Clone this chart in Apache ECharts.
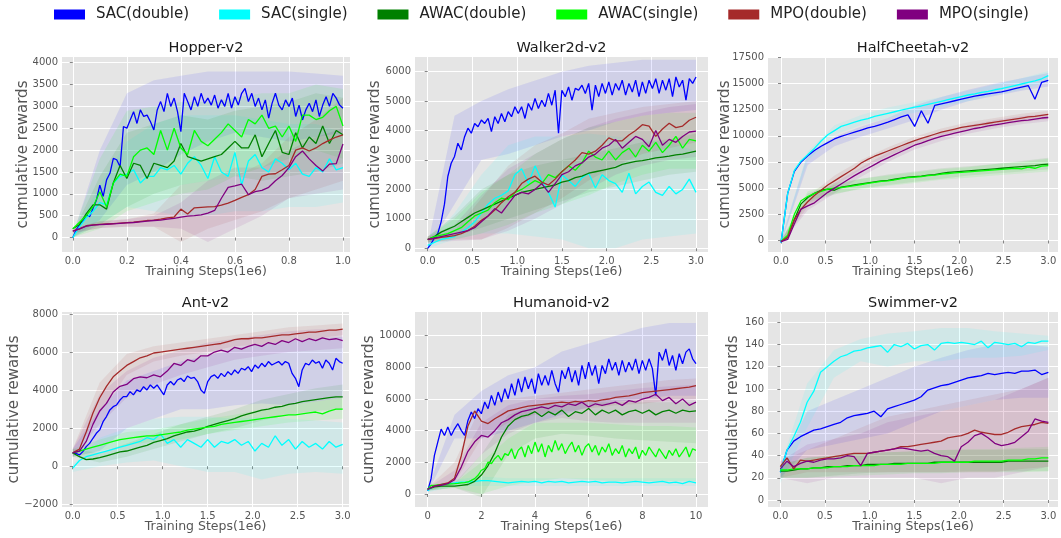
<!DOCTYPE html>
<html><head><meta charset="utf-8">
<script src="https://cdn.jsdelivr.net/npm/echarts@6/dist/echarts.min.js"></script>
<style>html,body{margin:0;padding:0;background:#fff}#c{width:1061px;height:538px}</style>
</head><body><div id="c"></div>
<script>
const methodNames = ['SAC(double)','SAC(single)','AWAC(double)','AWAC(single)','MPO(double)','MPO(single)'];
const methodColors = ['#0000ff','#00ffff','#008000','#00ff00','#a52a2a','#800080'];
const envTitles = ['Hopper-v2','Walker2d-v2','HalfCheetah-v2','Ant-v2','Humanoid-v2','Swimmer-v2'];

// x samples (training steps, 1e6)
const hopperSteps = [0,0.025,0.05,0.075,0.1,0.125,0.15,0.175,0.2,0.225,0.25,0.275,0.3,0.325,0.35,0.375,0.4,0.425,0.45,0.475,0.5,0.525,0.55,0.575,0.6,0.625,0.65,0.675,0.7,0.725,0.75,0.775,0.8,0.825,0.85,0.875,0.9,0.925,0.95,0.975,1.0];
const hopperFineSteps = [0,0.0125,0.025,0.0375,0.05,0.0625,0.075,0.0875,0.1,0.1125,0.125,0.1375,0.15,0.1625,0.175,0.1875,0.2,0.2125,0.225,0.2375,0.25,0.2625,0.275,0.2875,0.3,0.3125,0.325,0.3375,0.35,0.3625,0.375,0.3875,0.4,0.4125,0.425,0.4375,0.45,0.4625,0.475,0.4875,0.5,0.5125,0.525,0.5375,0.55,0.5625,0.575,0.5875,0.6,0.6125,0.625,0.6375,0.65,0.6625,0.675,0.6875,0.7,0.7125,0.725,0.7375,0.75,0.7625,0.775,0.7875,0.8,0.8125,0.825,0.8375,0.85,0.8625,0.875,0.8875,0.9,0.9125,0.925,0.9375,0.95,0.9625,0.975,0.9875,1.0];
const threeMSteps = [0,0.075,0.15,0.225,0.3,0.375,0.45,0.525,0.6,0.675,0.75,0.825,0.9,0.975,1.05,1.125,1.2,1.275,1.35,1.425,1.5,1.575,1.65,1.725,1.8,1.875,1.95,2.025,2.1,2.175,2.25,2.325,2.4,2.475,2.55,2.625,2.7,2.775,2.85,2.925,3.0];
const threeMFineSteps = [0,0.0375,0.075,0.1125,0.15,0.1875,0.225,0.2625,0.3,0.3375,0.375,0.4125,0.45,0.4875,0.525,0.5625,0.6,0.6375,0.675,0.7125,0.75,0.7875,0.825,0.8625,0.9,0.9375,0.975,1.0125,1.05,1.0875,1.125,1.1625,1.2,1.2375,1.275,1.3125,1.35,1.3875,1.425,1.4625,1.5,1.5375,1.575,1.6125,1.65,1.6875,1.725,1.7625,1.8,1.8375,1.875,1.9125,1.95,1.9875,2.025,2.0625,2.1,2.1375,2.175,2.2125,2.25,2.2875,2.325,2.3625,2.4,2.4375,2.475,2.5125,2.55,2.5875,2.625,2.6625,2.7,2.7375,2.775,2.8125,2.85,2.8875,2.925,2.9625,3.0];
const humanoidSteps = [0,0.25,0.5,0.75,1,1.25,1.5,1.75,2,2.25,2.5,2.75,3,3.25,3.5,3.75,4,4.25,4.5,4.75,5,5.25,5.5,5.75,6,6.25,6.5,6.75,7,7.25,7.5,7.75,8,8.25,8.5,8.75,9,9.25,9.5,9.75,10];
const humanoidFineSteps = [0,0.125,0.25,0.375,0.5,0.625,0.75,0.875,1,1.125,1.25,1.375,1.5,1.625,1.75,1.875,2,2.125,2.25,2.375,2.5,2.625,2.75,2.875,3,3.125,3.25,3.375,3.5,3.625,3.75,3.875,4,4.125,4.25,4.375,4.5,4.625,4.75,4.875,5,5.125,5.25,5.375,5.5,5.625,5.75,5.875,6,6.125,6.25,6.375,6.5,6.625,6.75,6.875,7,7.125,7.25,7.375,7.5,7.625,7.75,7.875,8,8.125,8.25,8.375,8.5,8.625,8.75,8.875,9,9.125,9.25,9.375,9.5,9.625,9.75,9.875,10];
const hopperBandSteps = [0,0.1,0.2,0.3,0.4,0.5,0.6,0.7,0.8,0.9,1.0];
const threeMBandSteps = [0,0.3,0.6,0.9,1.2,1.5,1.8,2.1,2.4,2.7,3.0];
const humanoidBandSteps = [0,1,2,3,4,5,6,7,8,9,10];

// tick labels
const hopperXTicks = [0,0.2,0.4,0.6,0.8,1.0];
const threeMXTicks = [0,0.5,1.0,1.5,2.0,2.5,3.0];
const humanoidXTicks = [0,2,4,6,8,10];
const hopperYTicks = [0,500,1000,1500,2000,2500,3000,3500,4000];
const walkerYTicks = [0,1000,2000,3000,4000,5000,6000];
const cheetahYTicks = [0,2500,5000,7500,10000,12500,15000,17500];
const antYTicks = [-2000,0,2000,4000,6000,8000];
const humanoidYTicks = [0,2000,4000,6000,8000,10000];
const swimmerYTicks = [0,20,40,60,80,100,120,140,160];

// ---- Hopper-v2 ----
const hopperSacDouble = [0,175,290,370,520,480,670,860,1200,940,1320,1470,1810,1780,1620,2540,2500,2690,2880,2610,2920,2770,2800,2650,2460,2920,3110,2880,3300,3000,3190,2880,2420,3300,3110,2920,3220,3000,3300,3070,3190,3030,3260,2960,3150,3000,3300,2960,3220,3030,3300,3410,3110,3300,3000,3190,2920,3150,2730,3070,3300,3030,2920,3150,3000,3190,2770,3030,2690,2920,3070,2880,3150,2770,3030,3220,3000,3300,3190,3030,2960];
const hopperSacSingle = [0,250,450,600,800,750,1250,1400,1450,1550,1250,1400,1400,1600,1550,1650,1450,1700,1850,1650,1350,1850,1500,1400,1950,1200,1750,1900,1600,1500,1800,1700,1550,1700,1450,1400,1600,1500,1800,1550,1600];
const hopperAwacDouble = [200,300,550,750,750,650,1250,1650,1350,1700,1650,1350,1700,1650,1600,1750,2150,1850,1800,1750,1800,1850,1900,2050,2200,2050,2050,2350,1850,2150,2450,1950,1900,2400,2050,2300,2150,2550,2150,2450,2350];
const hopperAwacSingle = [200,350,500,700,1050,700,1250,1450,1400,1850,2000,2050,1900,2450,2000,2500,2050,1900,2450,2200,2100,2250,2400,2600,2450,2300,2700,2600,2800,2500,2550,2300,2550,2200,2800,2800,2700,2750,2900,3000,2550];
const hopperMpoDouble = [150,200,270,290,300,310,320,330,340,350,370,390,400,420,450,470,650,540,680,690,700,710,740,790,850,920,980,1100,1400,1450,1460,1550,1650,2000,2050,1980,2050,2150,2230,2300,2350];
const hopperMpoSingle = [150,200,260,285,295,305,315,325,335,345,360,375,390,400,420,440,470,490,500,520,560,620,900,1150,1180,1220,980,1050,1080,1150,1300,1420,1600,1850,1980,1800,1650,1520,1680,1690,2140];
const hopperSacDoubleBand = [[0,50],[400,2000],[1200,3300],[1500,3600],[1900,3700],[2200,3800],[2400,3800],[2300,3800],[2200,3800],[2300,3750],[2400,3700]];
const hopperSacSingleBand = [[0,50],[300,1200],[700,2200],[600,2600],[500,2800],[500,2800],[600,2800],[600,2700],[700,2600],[700,2600],[800,2400]];
const hopperAwacDoubleBand = [[0,100],[300,1400],[700,2400],[1000,2600],[1200,2800],[1300,2700],[1400,2900],[1300,3000],[1400,3100],[1500,3300],[1700,3200]];
const hopperAwacSingleBand = [[0,100],[200,1800],[600,2900],[800,3000],[1000,3100],[1100,3100],[1400,3200],[1600,3300],[1800,3300],[2000,3500],[1800,3400]];
const hopperMpoDoubleBand = [[100,200],[220,380],[250,420],[250,550],[-100,1200],[200,1300],[400,1400],[600,1700],[900,2300],[1100,2700],[1300,3200]];
const hopperMpoSingleBand = [[100,200],[220,370],[250,420],[250,500],[200,800],[-100,1300],[200,1600],[500,1600],[900,2000],[1000,2300],[1100,2500]];

// ---- Walker2d-v2 ----
const walkerSacDouble = [0,150,350,500,900,1500,2440,2890,3120,3570,3340,3790,4080,3910,4240,4130,4360,4240,4410,3960,4470,4240,4580,4300,4640,4470,4810,4580,4810,4410,4920,4690,5090,4750,5030,4810,5260,4860,5370,3910,5370,5150,5480,5030,5430,5370,5540,5260,5600,4690,5540,5150,5600,5260,5650,5200,5600,5370,5710,5200,5600,5310,5710,5150,5650,5260,5710,5430,5760,5260,5710,5370,5760,5150,5820,5480,5710,5030,5760,5600,5820];
const walkerSacSingle = [100,200,300,350,400,550,700,900,1200,1500,1700,1800,1950,2500,2700,2200,2800,2300,1900,1400,2500,2300,2100,2400,2550,2050,2500,2300,2200,1900,2550,1850,2100,2250,1900,1800,2100,1850,2000,2350,1900];
const walkerAwacDouble = [300,400,550,650,750,900,1050,1200,1300,1400,1500,1600,1700,1800,1900,1950,2000,2050,2100,2150,2250,2300,2400,2450,2550,2600,2650,2700,2750,2850,2900,2950,2980,3020,3070,3100,3130,3170,3200,3250,3300];
const walkerAwacSingle = [300,400,450,500,600,700,900,1100,1200,1300,1550,1700,1650,1900,2000,2150,2300,2200,2500,2400,2600,2800,2650,2900,3300,3100,3000,3300,3000,3250,3400,3100,3500,3300,3600,3250,3500,3800,3400,3700,3650];
const walkerMpoDouble = [300,330,370,400,430,500,600,750,950,1100,1300,1550,1750,1900,2200,2350,2450,2250,2150,2350,2600,2800,3000,3250,3200,3300,3500,3750,3650,3650,3850,4000,4200,4150,3800,4050,4250,4100,4150,4350,4450];
const walkerMpoSingle = [300,350,400,450,500,550,600,700,900,1100,1350,1200,1500,1800,1900,1850,2000,2200,1900,2200,2500,2600,2800,2900,3100,3200,3400,3500,3700,3400,3600,3800,3700,3450,4000,3500,3700,3600,3800,3950,3980];
const walkerSacDoubleBand = [[0,100],[1500,4500],[3000,5000],[3200,5400],[3500,5700],[3800,6000],[4000,6200],[4300,6300],[4500,6400],[4600,6400],[4700,6400]];
const walkerSacSingleBand = [[0,200],[300,1200],[500,2500],[500,3500],[400,3800],[300,3800],[0,3900],[0,3800],[300,3700],[400,3600],[500,3300]];
const walkerAwacDoubleBand = [[200,400],[400,1100],[700,2000],[1000,2500],[1300,2800],[1600,3000],[1900,3200],[2100,3400],[2300,3600],[2500,3700],[2600,3900]];
const walkerAwacSingleBand = [[200,400],[300,1000],[500,1900],[800,2500],[1200,3200],[1500,3700],[1800,4100],[2200,4300],[2500,4500],[2700,4600],[2700,4600]];
const walkerMpoDoubleBand = [[200,400],[300,600],[300,1700],[700,2800],[1200,3500],[1700,3900],[2300,4400],[2800,4600],[3200,4800],[3400,4900],[3600,5000]];
const walkerMpoSingleBand = [[200,400],[250,800],[300,1800],[600,2700],[1000,3200],[1500,3700],[2000,4100],[2500,4400],[2800,4600],[3000,4800],[3100,4900]];

// ---- HalfCheetah-v2 ----
const cheetahSacDouble = [-200,4500,6600,7500,8100,8600,9000,9350,9700,9950,10150,10350,10550,10750,10900,11100,11300,11550,11800,12000,10900,12400,11200,12900,13050,13200,13350,13500,13650,13800,13900,14000,14100,14200,14350,14500,14650,14800,13500,15100,15300];
const cheetahSacSingle = [-200,4500,6700,7600,8200,8800,9500,10100,10500,10900,11100,11300,11500,11650,11850,12000,12150,12300,12450,12600,12750,12850,13000,13150,13300,13450,13600,13750,13900,14000,14150,14250,14400,14500,14650,14800,14950,15100,15250,15450,15750];
const cheetahAwacDouble = [-100,300,2000,3500,4100,4500,4800,4900,4800,5100,5200,5300,5400,5500,5600,5700,5750,5850,5950,6050,6100,6150,6250,6300,6400,6500,6550,6600,6650,6700,6750,6800,6850,6900,6950,7000,7050,7100,7150,7250,7300];
const cheetahAwacSingle = [-100,500,2500,3800,4200,4500,4700,4900,5000,5050,5150,5250,5350,5450,5550,5650,5700,5800,5900,6000,6050,6100,6200,6250,6350,6400,6450,6500,6550,6600,6650,6700,6750,6800,6850,6900,6850,7000,6900,7100,7150];
const cheetahMpoDouble = [-100,300,2000,3000,3700,4300,4800,5300,5700,6100,6500,6900,7400,7750,8050,8300,8550,8800,9050,9300,9550,9750,9950,10150,10350,10500,10650,10800,10900,11000,11100,11200,11300,11400,11500,11600,11700,11800,11850,11950,12050];
const cheetahMpoSingle = [-100,100,1600,3000,3300,3600,4100,4600,5000,5400,5800,6200,6550,6900,7250,7600,7900,8200,8500,8800,9100,9300,9550,9750,9950,10100,10250,10400,10550,10700,10800,10950,11050,11150,11250,11350,11450,11500,11600,11700,11750];
const cheetahSacDoubleBand = [[-300,0],[7200,8300],[9000,9900],[9900,10900],[10700,11700],[11500,12900],[12500,13700],[13300,14400],[13800,15000],[14300,15500],[14700,16000]];
const cheetahSacSingleBand = [[-300,0],[7600,8500],[10100,11000],[11000,12000],[11700,12700],[12200,13200],[12800,13700],[13300,14300],[13900,14900],[14400,15500],[15200,16200]];
const cheetahAwacDoubleBand = [[-300,0],[3600,4500],[4400,5300],[5000,5900],[5300,6300],[5600,6600],[5900,6900],[6200,7100],[6400,7300],[6600,7600],[6800,7900]];
const cheetahAwacSingleBand = [[-300,0],[3800,4700],[4500,5500],[4900,5900],[5200,6200],[5500,6500],[5800,6800],[6000,7000],[6200,7300],[6400,7500],[6600,7800]];
const cheetahMpoDoubleBand = [[-300,0],[3200,4200],[5200,6200],[6800,7700],[8100,8900],[9100,9900],[9900,10700],[10500,11300],[10900,11700],[11300,12100],[11600,12400]];
const cheetahMpoSingleBand = [[-300,0],[2900,3800],[4500,5500],[6100,7000],[7500,8400],[8700,9500],[9500,10300],[10200,11000],[10700,11500],[11100,11900],[11400,12100]];

// ---- Ant-v2 ----
const antSacDouble = [680,680,590,770,1030,1200,1470,1730,1910,2340,2610,2960,3130,3220,3480,3660,3660,3920,3750,4010,3920,4180,4010,4270,4100,4270,4010,3750,4270,4450,4270,4530,4620,4450,4740,4620,4670,4450,4010,3830,4450,4710,4800,4620,4880,4710,4970,4800,5060,4880,5150,5060,5230,4970,5320,5150,5410,5230,5500,5320,5410,5500,5320,5500,5410,4880,4620,4180,5060,5410,5320,5580,5410,5500,5150,5580,5410,5060,5670,5500,5410];
const antSacSingle = [-100,300,500,600,700,800,900,1000,1100,1200,1300,1500,1400,1700,1200,1400,1000,1400,1200,1000,1400,1000,1300,1200,1400,1100,1300,800,1200,1000,1600,1100,1400,900,1300,1000,1200,900,1300,1000,1150];
const antAwacDouble = [700,500,350,380,450,550,650,750,800,900,1000,1100,1250,1350,1450,1600,1700,1800,1850,1950,2100,2200,2300,2400,2500,2650,2750,2850,2950,3000,3100,3150,3250,3300,3400,3450,3500,3550,3600,3650,3650];
const antAwacSingle = [700,800,900,1000,1100,1200,1300,1400,1450,1500,1550,1600,1600,1650,1700,1750,1800,1900,1950,2000,2050,2100,2200,2250,2300,2350,2400,2450,2500,2550,2600,2650,2700,2700,2750,2800,2850,2750,2900,3000,3000];
const antMpoDouble = [700,900,1800,2800,3600,4200,4700,5000,5300,5500,5700,5800,5950,6000,6050,6100,6150,6200,6250,6300,6350,6400,6450,6550,6650,6700,6700,6750,6750,6800,6850,6900,6900,6950,7000,7050,7050,7100,7150,7150,7200];
const antMpoSingle = [700,800,1300,2200,2900,3300,3900,4200,4300,4600,4700,4650,4800,4700,5000,5400,5300,5600,5500,5800,5800,6000,6100,6000,6250,6150,6300,6400,6300,6500,6400,6600,6500,6700,6550,6700,6600,6750,6650,6700,6600];
const antSacDoubleBand = [[500,900],[800,3000],[2000,4500],[2500,5000],[3000,5500],[3000,5800],[3200,6200],[3300,6400],[3200,6600],[3400,6700],[3600,6800]];
const antSacSingleBand = [[-300,100],[0,1500],[200,2000],[300,2500],[0,2600],[-300,2600],[-300,2500],[-700,2600],[-400,2500],[-300,2400],[-400,2300]];
const antAwacDoubleBand = [[500,900],[200,700],[500,1200],[900,1700],[1300,2200],[1700,2600],[2000,3000],[2400,3500],[2700,3800],[2900,4100],[3000,4300]];
const antAwacSingleBand = [[500,900],[800,1400],[1100,1800],[1300,1900],[1400,2200],[1700,2500],[1900,2700],[2100,3000],[2300,3200],[2400,3400],[2500,3600]];
const antMpoDoubleBand = [[500,900],[2800,4400],[4800,5900],[5500,6300],[5800,6500],[6000,6700],[6300,6900],[6400,7100],[6600,7300],[6700,7400],[6900,7500]];
const antMpoSingleBand = [[500,900],[2200,3800],[3600,5000],[4300,5700],[4800,6100],[5200,6500],[5600,6700],[5800,6900],[6000,7100],[6100,7200],[6200,7200]];

// ---- Humanoid-v2 ----
const humanoidSacDouble = [200,970,2440,3280,4100,3700,4230,3700,4120,4440,4020,3700,4650,5180,4760,5390,5070,5810,5390,6230,5600,6440,5810,6650,6020,6970,6230,7280,6440,7390,6650,7280,6340,7600,6860,7490,6860,7810,6970,6440,7810,7280,8020,7070,7810,6860,8120,7280,8330,7490,8120,6970,8120,7600,8540,7810,8330,7490,8440,7700,8330,7810,8540,7600,8440,7810,8540,7920,6230,8960,8440,9170,8120,8750,7810,8860,8230,8960,9170,8540,8230];
const humanoidSacSingle = [200,500,600,650,700,750,750,800,850,850,800,750,700,750,800,750,800,700,800,750,800,700,750,800,750,800,700,750,750,700,750,800,750,700,750,800,700,750,650,800,700];
const humanoidAwacDouble = [300,450,500,500,500,550,600,800,1200,1800,2600,3600,4300,4700,4900,5000,5200,4900,5200,5000,5300,4900,5200,5100,5400,5000,5300,5100,5300,5000,5200,5300,5100,5300,5000,5200,5300,5100,5300,5200,5250];
const humanoidAwacSingle = [300,550,550,570,590,610,630,640,650,670,700,720,760,860,970,1180,1500,1600,2020,1920,2230,2440,2130,2550,2440,2860,2230,2760,2970,2340,3070,2550,3280,2650,3180,2340,3070,2650,3390,2760,3180,2550,2970,3280,2650,3070,2440,2970,3180,2650,3070,2440,2970,2650,3180,2440,2860,2550,3070,2340,2860,2550,2970,2230,2760,2440,2970,2650,2340,2860,2550,2230,2760,2440,2860,2340,2650,2970,2340,2860,2760];
const humanoidMpoDouble = [300,500,600,700,1000,2400,4300,5250,4600,4450,4750,5000,5250,5350,5450,5550,5600,5650,5700,5750,5800,5750,5850,5800,5900,5850,5950,6000,6100,6150,6200,6300,6400,6450,6500,6550,6600,6650,6700,6750,6850];
const humanoidMpoSingle = [300,500,550,650,900,1700,2700,3300,3700,3600,4000,4500,4700,5000,5200,5300,5400,5500,5400,5600,5500,5700,5600,5800,5500,5700,5600,5700,5800,5600,5900,5800,6000,6100,6300,5900,6100,5700,6000,5600,5800];
const humanoidSacDoubleBand = [[100,300],[3500,5000],[3500,6500],[4000,7500],[4500,8000],[5000,9000],[5500,9500],[5800,10000],[6000,10500],[6200,10800],[6200,10800]];
const humanoidSacSingleBand = [[100,300],[500,900],[500,1100],[500,1000],[500,1000],[500,1000],[500,1000],[500,1000],[500,1000],[500,1000],[500,1000]];
const humanoidAwacDoubleBand = [[200,400],[400,700],[-200,2500],[2500,5000],[3500,5600],[3800,5700],[3700,5800],[3500,5800],[3400,5800],[3300,5800],[3200,5800]];
const humanoidAwacSingleBand = [[200,400],[400,700],[0,2000],[500,3500],[800,4500],[1000,4500],[900,4500],[800,4400],[800,4300],[800,4300],[800,4200]];
const humanoidMpoDoubleBand = [[200,400],[700,2000],[3500,5600],[4500,6000],[5000,6200],[5200,6400],[5400,6600],[5600,6800],[5700,7000],[5900,7200],[6000,7300]];
const humanoidMpoSingleBand = [[200,400],[600,1500],[2500,4500],[3800,5600],[4500,6000],[4800,6200],[4600,6300],[4500,6500],[4500,6700],[4500,6800],[4500,6900]];

// ---- Swimmer-v2 ----
const swimmerSacDouble = [25,45,53,57,60,63,64,66,68,70,74,76,77,78,80,75,82,84,86,88,90,93,99,101,103,104,106,108,110,111,112,114,113,114,115,114,116,116,117,113,115];
const swimmerSacSingle = [25,45,57,70,88,98,115,120,125,129,131,134,135,137,138,139,133,140,138,141,136,139,140,135,141,142,141,142,141,140,143,137,142,141,140,141,138,142,141,143,143];
const swimmerAwacDouble = [26,26,27,28,28,29,29,30,30,30,31,31,31,32,32,32,32,33,33,33,33,33,33,34,34,34,34,34,34,34,34,34,34,34,35,35,35,35,35,35,35];
const swimmerAwacSingle = [27,27,28,28,28,29,29,29,30,30,30,31,31,31,31,32,32,32,32,33,33,33,33,33,34,34,34,34,34,35,35,35,35,35,36,36,36,37,37,38,38];
const swimmerMpoDouble = [30,38,28,36,35,36,37,38,39,40,41,42,42,42,43,44,45,46,48,48,49,50,51,52,53,56,57,58,60,63,61,60,59,59,61,64,66,67,68,70,69];
const swimmerMpoSingle = [28,35,30,33,35,34,36,37,37,38,40,39,31,42,43,44,45,46,47,46,45,44,45,42,40,39,35,48,52,58,60,56,51,49,50,52,57,62,73,71,70];
const swimmerSacDoubleBand = [[20,30],[45,80],[50,90],[55,100],[60,110],[70,120],[80,128],[85,135],[90,140],[92,140],[92,138]];
const swimmerSacSingleBand = [[15,30],[65,105],[110,135],[125,145],[120,150],[125,152],[125,155],[128,155],[128,152],[130,150],[135,148]];
const swimmerAwacDoubleBand = [[20,32],[20,38],[22,40],[24,42],[25,43],[25,44],[25,45],[26,45],[26,45],[26,46],[26,46]];
const swimmerAwacSingleBand = [[20,32],[20,38],[21,40],[22,42],[23,43],[24,44],[24,45],[25,46],[25,46],[25,47],[26,48]];
const swimmerMpoDoubleBand = [[20,35],[25,45],[25,55],[25,65],[25,75],[25,80],[25,85],[25,90],[25,95],[28,100],[30,110]];
const swimmerMpoSingleBand = [[20,35],[15,50],[20,55],[20,60],[20,70],[20,75],[15,80],[20,85],[20,90],[25,100],[30,110]];

// ---- assemble ----
const H = hopperSteps, T = threeMSteps, U = humanoidSteps;
const envData = [
  {steps: [hopperFineSteps,H,H,H,H,H], bandSteps: hopperBandSteps, xTicks: hopperXTicks, yTicks: hopperYTicks,
   values: [hopperSacDouble,hopperSacSingle,hopperAwacDouble,hopperAwacSingle,hopperMpoDouble,hopperMpoSingle],
   bands: [hopperSacDoubleBand,hopperSacSingleBand,hopperAwacDoubleBand,hopperAwacSingleBand,hopperMpoDoubleBand,hopperMpoSingleBand]},
  {steps: [threeMFineSteps,T,T,T,T,T], bandSteps: threeMBandSteps, xTicks: threeMXTicks, yTicks: walkerYTicks,
   values: [walkerSacDouble,walkerSacSingle,walkerAwacDouble,walkerAwacSingle,walkerMpoDouble,walkerMpoSingle],
   bands: [walkerSacDoubleBand,walkerSacSingleBand,walkerAwacDoubleBand,walkerAwacSingleBand,walkerMpoDoubleBand,walkerMpoSingleBand]},
  {steps: [T,T,T,T,T,T], bandSteps: threeMBandSteps, xTicks: threeMXTicks, yTicks: cheetahYTicks,
   values: [cheetahSacDouble,cheetahSacSingle,cheetahAwacDouble,cheetahAwacSingle,cheetahMpoDouble,cheetahMpoSingle],
   bands: [cheetahSacDoubleBand,cheetahSacSingleBand,cheetahAwacDoubleBand,cheetahAwacSingleBand,cheetahMpoDoubleBand,cheetahMpoSingleBand]},
  {steps: [threeMFineSteps,T,T,T,T,T], bandSteps: threeMBandSteps, xTicks: threeMXTicks, yTicks: antYTicks,
   values: [antSacDouble,antSacSingle,antAwacDouble,antAwacSingle,antMpoDouble,antMpoSingle],
   bands: [antSacDoubleBand,antSacSingleBand,antAwacDoubleBand,antAwacSingleBand,antMpoDoubleBand,antMpoSingleBand]},
  {steps: [humanoidFineSteps,U,U,humanoidFineSteps,U,U], bandSteps: humanoidBandSteps, xTicks: humanoidXTicks, yTicks: humanoidYTicks,
   values: [humanoidSacDouble,humanoidSacSingle,humanoidAwacDouble,humanoidAwacSingle,humanoidMpoDouble,humanoidMpoSingle],
   bands: [humanoidSacDoubleBand,humanoidSacSingleBand,humanoidAwacDoubleBand,humanoidAwacSingleBand,humanoidMpoDoubleBand,humanoidMpoSingleBand]},
  {steps: [T,T,T,T,T,T], bandSteps: threeMBandSteps, xTicks: threeMXTicks, yTicks: swimmerYTicks,
   values: [swimmerSacDouble,swimmerSacSingle,swimmerAwacDouble,swimmerAwacSingle,swimmerMpoDouble,swimmerMpoSingle],
   bands: [swimmerSacDoubleBand,swimmerSacSingleBand,swimmerAwacDoubleBand,swimmerAwacSingleBand,swimmerMpoDoubleBand,swimmerMpoSingleBand]}
];

// layout (pixels / axis extents)
const layout = [
  {grid:{left:62,top:57,width:288,height:195}, x:[-0.04,1.026], y:[-330,4130], yGap:31, xDec:1},
  {grid:{left:415,top:57,width:293,height:195}, x:[-0.142,3.134], y:[-125,6497], yGap:32.5, xDec:1},
  {grid:{left:768,top:57,width:290,height:195}, x:[-0.146,3.109], y:[-1100,17530], yGap:35.5, xDec:1},
  {grid:{left:62,top:312,width:287,height:195}, x:[-0.119,3.07], y:[-2142,8105], yGap:40.5, xDec:1},
  {grid:{left:415,top:312,width:293,height:195}, x:[-0.474,10.448], y:[-821,11497], yGap:38.5, xDec:0},
  {grid:{left:768,top:312,width:290,height:195}, x:[-0.138,3.108], y:[-6.3,169.3], yGap:27.5, xDec:1}
];

const FONT = 'DejaVu Sans';
const fmtNum = v => (v < 0 ? '\u2212' + Math.abs(v) : String(v));

const grids = [], xAxes = [], yAxes = [], series = [], graphics = [];
layout.forEach((L, g) => {
  const env = envData[g];
  grids.push(Object.assign({show:true, backgroundColor:'#e5e5e5', borderWidth:0}, L.grid));
  xAxes.push({type:'value', gridIndex:g, min:L.x[0], max:L.x[1],
    axisLine:{show:false},
    axisTick:{show:true, length:3, customValues: env.xTicks, lineStyle:{color:'#666', width:0.8}},
    axisLabel:{customValues: env.xTicks, color:'#555', fontSize:10, fontFamily:FONT, margin:4,
      formatter: v => v.toFixed(L.xDec)},
    splitLine:{show:true, lineStyle:{color:'#ffffff', width:1}},
    name:'Training Steps(1e6)', nameLocation:'middle', nameGap:13, nameMoveOverlap:false,
    nameTextStyle:{color:'#555', fontSize:12.5, fontFamily:FONT}});
  yAxes.push({type:'value', gridIndex:g, min:L.y[0], max:L.y[1],
    axisLine:{show:false},
    axisTick:{show:true, length:3, customValues: env.yTicks, lineStyle:{color:'#666', width:0.8}},
    axisLabel:{customValues: env.yTicks, color:'#555', fontSize:10, fontFamily:FONT, margin:4,
      formatter: v => fmtNum(v)},
    splitLine:{show:true, lineStyle:{color:'#ffffff', width:1}},
    name:'cumulative rewards', nameLocation:'middle', nameGap:L.yGap, nameRotate:90, nameMoveOverlap:false,
    nameTextStyle:{color:'#555', fontSize:15, fontFamily:FONT}});
  graphics.push({type:'text', x: L.grid.left + L.grid.width/2, y: L.grid.top - 9,
    style:{text: envTitles[g], fill:'#1a1a1a', font:'14.5px "DejaVu Sans"', textAlign:'center', textVerticalAlign:'middle'}});

  env.bands.forEach((band, j) => {
    const pts = env.bandSteps.map((x, k) => [x, band[k][0], band[k][1]]);
    series.push({type:'custom', name:'band-' + g + '-' + j, xAxisIndex:g, yAxisIndex:g, clip:true, silent:true, z:1,
      data: pts, encode:{x:0, y:[1,2]},
      renderItem: (params, api) => {
        if (params.dataIndex !== 0) return null;
        const up = pts.map(p => api.coord([p[0], p[2]]));
        const lo = pts.map(p => api.coord([p[0], p[1]])).reverse();
        return {type:'polygon', shape:{points: up.concat(lo)},
          style:{fill: echarts.color.modifyAlpha(methodColors[j], 0.09)}};
      }});
  });
  env.values.forEach((vals, j) => {
    const xs = env.steps[j];
    series.push({type:'line', name: methodNames[j], xAxisIndex:g, yAxisIndex:g, z:3,
      data: xs.map((x, k) => [x, vals[k]]),
      showSymbol:false, symbol:'none', color: methodColors[j],
      itemStyle:{color: methodColors[j]},
      lineStyle:{width:1.3, color: methodColors[j]}});
  });
});

const chart = echarts.init(document.getElementById('c'));
chart.setOption({
  animation:false,
  backgroundColor:'#ffffff',
  textStyle:{fontFamily:FONT},
  legend:{data: methodNames, top:2, left:49, icon:'rect', itemWidth:31, itemHeight:10, itemGap:30,
    textStyle:{fontSize:15, color:'#222', fontFamily:FONT, padding:[0,0,0,6]}},
  grid: grids, xAxis: xAxes, yAxis: yAxes, series: series, graphic: graphics
});
</script></body></html>
